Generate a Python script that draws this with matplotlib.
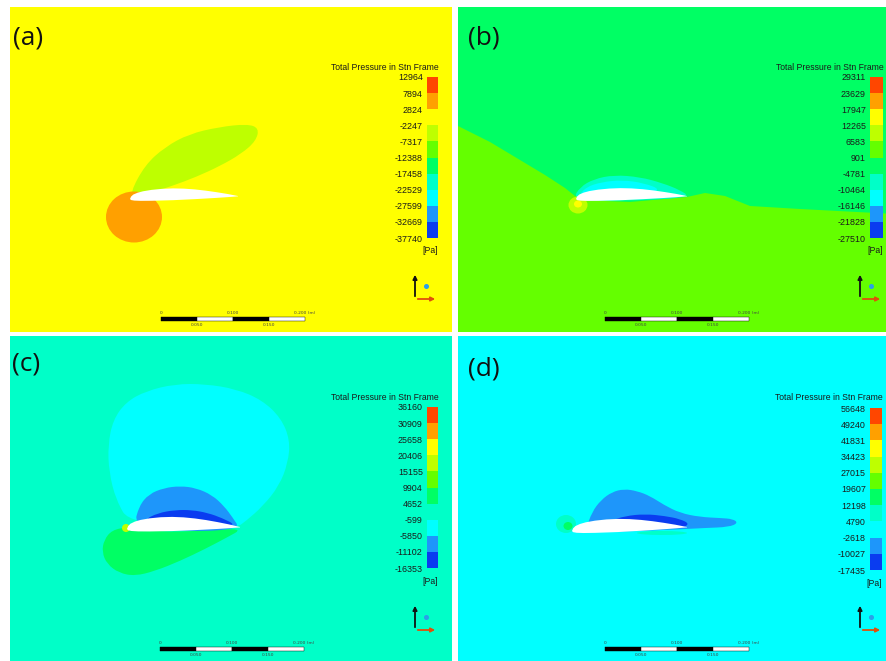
import numpy as np
import matplotlib as mpl
import matplotlib.pyplot as plt
from matplotlib.colors import ListedColormap, BoundaryNorm
from matplotlib.path import Path
from matplotlib.patches import PathPatch, Polygon, Ellipse, Rectangle

W, H = 887, 661

# contour bands, low -> high (rainbow, 10 bands)
band_colors = ['#0a3cf0', '#1e96fa', '#00ffff', '#00ffc8', '#00ff64',
               '#64ff00', '#beff00', '#ffff00', '#ffa000', '#ff4600']
cmap = ListedColormap(band_colors)

# legend levels [Pa] for the four cases
levels_a = [-37740, -32669, -27599, -22529, -17458, -12388, -7317, -2247, 2824, 7894, 12964]
levels_b = [-27510, -21828, -16146, -10464, -4781, 901, 6583, 12265, 17947, 23629, 29311]
levels_c = [-16353, -11102, -5850, -599, 4652, 9904, 15155, 20406, 25658, 30909, 36160]
levels_d = [-17435, -10027, -2618, 4790, 12198, 19607, 27015, 34423, 41831, 49240, 56648]

panel_names = ['(a)', '(b)', '(c)', '(d)']
scale_labels_top = ['0', '0.100', '0.200 (m)']
scale_labels_bot = ['0.050', '0.150']

# airfoil section, normalised by chord (upper then lower surface)
foil_up_x = [0.0, 0.01, 0.03, 0.07, 0.12, 0.2, 0.3, 0.4, 0.5, 0.6, 0.7, 0.8, 0.9, 1.0]
foil_up_y = [0.0, 0.022, 0.04, 0.056, 0.068, 0.079, 0.086, 0.087, 0.082, 0.072, 0.058, 0.041, 0.022, 0.0]
foil_lo_x = [1.0, 0.9, 0.8, 0.6, 0.4, 0.2, 0.1, 0.04, 0.01]
foil_lo_y = [-0.003, -0.008, -0.012, -0.018, -0.022, -0.022, -0.02, -0.016, -0.01]

# panel (a): stagnation bubble and upper wake region
a_stag = (134, 217, 56, 51)
a_wake_x = [130, 145, 165, 189, 219, 247, 259, 256, 241, 220, 196, 172, 150, 136]
a_wake_y = [193, 165, 147, 134, 127, 124, 128, 141, 154, 166, 177, 186, 193, 196]

# panel (b): lower region and suction layers on the upper surface
b_low_x = [450, 490, 520, 545, 565, 580, 630, 687, 705, 725, 750, 800, 895, 895, 450]
b_low_y = [122, 142, 160, 175, 188, 200, 202, 197, 193, 196, 206, 209, 214, 340, 340]
b_aqua_x = [573, 580, 594, 614, 640, 662, 680, 690, 650, 600]
b_aqua_y = [199, 187, 179, 175, 177, 183, 190, 197, 200, 201]
b_cyan_x = [578, 586, 602, 622, 644, 662, 640, 600]
b_cyan_y = [197, 187, 182, 180, 183, 190, 197, 198]

# panel (c)
c_bubble_x = [130, 116, 109, 108, 113, 126, 146, 175, 205, 236, 262, 281, 290, 288, 279, 263, 246, 236]
c_bubble_y = [524, 500, 472, 445, 420, 402, 391, 384, 384, 389, 400, 418, 440, 463, 486, 506, 521, 528]
c_dome_x = [134, 139, 149, 164, 180, 196, 212, 224, 233, 240, 190]
c_dome_y = [526, 506, 494, 488, 486, 488, 495, 506, 518, 529, 532]
c_core_x = [144, 158, 175, 192, 208, 222, 236, 222, 192, 160]
c_core_y = [520, 513, 510, 510, 513, 518, 525, 525, 520, 520]
c_tail_x = [128, 112, 104, 102, 107, 119, 135, 155, 180, 205, 226, 244, 200, 160]
c_tail_y = [527, 530, 540, 552, 564, 573, 576, 571, 561, 549, 538, 528, 531, 532]

# panel (d)
d_dome_x = [586, 592, 601, 612, 624, 637, 650, 664, 680, 700, 720, 733, 738, 729, 705, 686, 640, 600]
d_dome_y = [529, 512, 500, 492, 489, 491, 496, 505, 513, 517, 518, 519, 523, 527, 528, 529, 531, 532]
d_core_x = [610, 625, 645, 665, 680, 690, 680, 650, 620]
d_core_y = [521, 516, 514, 516, 519, 524, 529, 526, 524]

fig = plt.figure(figsize=(W / 100, H / 100), dpi=100)
fig.patch.set_facecolor('white')


def fig_xy(x, y):
    return x / W, 1 - y / H


def smooth_patch(ax, xs, ys, color, z=2):
    pts = np.column_stack([xs, ys]).astype(float)
    mids = (pts + np.roll(pts, -1, axis=0)) / 2
    verts = [mids[-1]]
    codes = [Path.MOVETO]
    for i in range(len(pts)):
        verts += [pts[i], mids[i]]
        codes += [Path.CURVE3, Path.CURVE3]
    verts.append(mids[-1])
    codes.append(Path.CLOSEPOLY)
    ax.add_patch(PathPatch(Path(verts, codes), facecolor=color, edgecolor='none', zorder=z))


def draw_foil(ax, le, te, thick=1.0):
    chord = te[0] - le[0]
    xs = np.array(foil_up_x + foil_lo_x)
    ys = np.array(foil_up_y + foil_lo_y)
    px = le[0] + xs * chord
    py = le[1] + xs * (te[1] - le[1]) - ys * chord * thick
    ax.add_patch(Polygon(np.column_stack([px, py]), closed=True,
                         facecolor='white', edgecolor='none', zorder=5))


def make_panel(rect, levels, bg_value):
    x0, y0, x1, y1 = rect
    ax = fig.add_axes([x0 / W, 1 - y1 / H, (x1 - x0) / W, (y1 - y0) / H])
    ax.set_xlim(x0, x1)
    ax.set_ylim(y1, y0)
    ax.set_xticks([])
    ax.set_yticks([])
    for s in ax.spines.values():
        s.set_visible(False)
    norm = BoundaryNorm(levels, cmap.N)
    ax.set_facecolor(cmap(norm(bg_value)))
    return ax, norm


def add_legend(levels, cbar_rect):
    x, y, w, h = cbar_rect
    cax = fig.add_axes([x / W, 1 - (y + h) / H, w / W, h / H])
    norm = BoundaryNorm(levels, cmap.N)
    cb = mpl.colorbar.ColorbarBase(cax, cmap=cmap, norm=norm, ticks=levels,
                                   orientation='vertical')
    cb.outline.set_visible(False)
    cax.yaxis.set_ticks_position('left')
    cax.tick_params(length=0, pad=3, labelsize=6.4, labelcolor='#1a1a1a')
    cb.set_ticklabels([str(v) for v in levels])
    for t in cax.get_yticklabels():
        t.set_fontfamily('Liberation Sans')
    tx, ty = fig_xy(x + w + 1, y - 10)
    fig.text(tx, ty, 'Total Pressure in Stn Frame', fontsize=6.2, ha='right',
             va='center', color='#1a1a1a', family='Liberation Sans')
    tx, ty = fig_xy(x + w, y + h + 13)
    fig.text(tx, ty, '[Pa]', fontsize=6.2, ha='right', va='center',
             color='#1a1a1a', family='Liberation Sans')


def add_scale_and_axes(ax, sx, sy, ox, oy):
    seg = 36
    for i in range(4):
        ax.add_patch(Rectangle((sx + i * seg, sy), seg, 3.5,
                               facecolor='black' if i % 2 == 0 else 'white',
                               edgecolor='black', lw=0.3, zorder=6))
    for i, lab in enumerate(scale_labels_top):
        ax.text(sx + i * 2 * seg, sy - 2, lab, fontsize=3.2, color='#444',
                ha='center', va='bottom', zorder=6)
    for i, lab in enumerate(scale_labels_bot):
        ax.text(sx + (2 * i + 1) * seg, sy + 6, lab, fontsize=3.2, color='#444',
                ha='center', va='top', zorder=6)
    ax.annotate('', xy=(ox, oy - 27), xytext=(ox, oy),
                arrowprops=dict(arrowstyle='-|>', color='#111', lw=1.3,
                                mutation_scale=6), zorder=7)
    ax.annotate('', xy=(ox + 23, oy), xytext=(ox, oy),
                arrowprops=dict(arrowstyle='-|>', color='#e0500a', lw=1.3,
                                mutation_scale=6), zorder=7)
    ax.plot(ox + 11, oy - 13, 'o', ms=2.6, color='#2aa0e8', zorder=7)


# (a)
ax, norm = make_panel((10, 7, 452, 332), levels_a, 0)
smooth_patch(ax, a_wake_x, a_wake_y, cmap(norm(-5000)))
ax.add_patch(Ellipse(a_stag[:2], a_stag[2], a_stag[3],
                     facecolor=cmap(norm(5000)), edgecolor='none', zorder=3))
draw_foil(ax, (130, 199), (238, 196))
add_scale_and_axes(ax, 161, 317, 415, 299)
add_legend(levels_a, (427, 77, 11, 161))

# (b)
ax, norm = make_panel((458, 7, 887, 332), levels_b, -2000)
ax.add_patch(Polygon(np.column_stack([b_low_x, b_low_y]), closed=True,
                     facecolor=cmap(norm(3000)), edgecolor='none', zorder=1))
smooth_patch(ax, b_aqua_x, b_aqua_y, cmap(norm(-8000)), z=2)
smooth_patch(ax, b_cyan_x, b_cyan_y, cmap(norm(-13000)), z=3)
ax.add_patch(Ellipse((578, 205), 19, 17, facecolor=cmap(norm(9000)),
                     edgecolor='none', zorder=4))
ax.add_patch(Ellipse((578, 204), 8, 7, facecolor=cmap(norm(14000)),
                     edgecolor='none', zorder=4))
draw_foil(ax, (576, 199), (687, 196))
add_scale_and_axes(ax, 605, 317, 860, 299)
add_legend(levels_b, (870, 77, 13, 161))

# (c)
ax, norm = make_panel((10, 336, 452, 661), levels_c, 2000)
smooth_patch(ax, c_bubble_x, c_bubble_y, cmap(norm(-3000)), z=2)
smooth_patch(ax, c_tail_x, c_tail_y, cmap(norm(7000)), z=2)
smooth_patch(ax, c_dome_x, c_dome_y, cmap(norm(-8000)), z=3)
smooth_patch(ax, c_core_x, c_core_y, cmap(norm(-13000)), z=4)
ax.add_patch(Ellipse((126, 528), 8, 8, facecolor=cmap(norm(17000)),
                     edgecolor='none', zorder=4))
draw_foil(ax, (127, 529), (240, 527), thick=1.15)
add_scale_and_axes(ax, 160, 647, 415, 630)
add_legend(levels_c, (427, 407, 11, 161))

# (d)
ax, norm = make_panel((458, 336, 887, 661), levels_d, 1000)
smooth_patch(ax, d_dome_x, d_dome_y, cmap(norm(-6000)), z=2)
smooth_patch(ax, d_core_x, d_core_y, cmap(norm(-14000)), z=3)
ax.add_patch(Ellipse((566, 524), 20, 18, facecolor=cmap(norm(8000)),
                     edgecolor='none', zorder=4))
ax.add_patch(Ellipse((568, 526), 9, 8, facecolor=cmap(norm(15000)),
                     edgecolor='none', zorder=4))
ax.add_patch(Ellipse((662, 533), 50, 4, facecolor=cmap(norm(8000)),
                     edgecolor='none', zorder=4))
draw_foil(ax, (572, 531), (687, 527), thick=1.05)
add_scale_and_axes(ax, 605, 647, 860, 630)
add_legend(levels_d, (870, 408, 12, 162))

# panel letters
for name, (x, y) in zip(panel_names, [(13, 38), (468, 38), (12, 364), (468, 369)]):
    fx, fy = fig_xy(x, y)
    fig.text(fx, fy, name, fontsize=19, ha='left', va='center',
             color='#111', family='Open Sans')

fig.savefig('out.png', dpi=100)
